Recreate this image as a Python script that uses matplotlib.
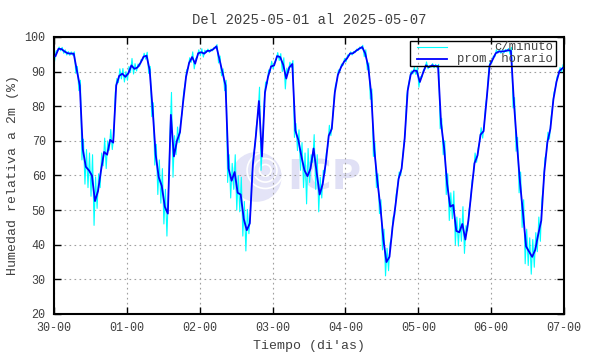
import numpy as np
import matplotlib.pyplot as plt
from matplotlib.patches import Ellipse, Rectangle
from matplotlib.lines import Line2D

# promedio horario de humedad relativa (%), 24 valores por dia
dia0 = [94.5, 96.6, 96.5, 95.8, 95.3, 95.2, 95.2, 90.5, 86.0, 67.5, 62.5, 61.5,
        60.0, 52.6, 55.5, 61.5, 66.8, 66.0, 70.3, 69.5, 86.0, 88.8, 89.4, 88.5]
dia1 = [89.5, 91.8, 90.8, 91.2, 92.5, 94.3, 94.6, 90.5, 79.0, 66.0, 59.5, 57.0,
        51.0, 49.0, 77.5, 65.5, 70.0, 72.5, 81.0, 88.5, 92.5, 94.2, 92.3, 95.3]
dia2 = [95.6, 95.2, 96.0, 96.0, 96.5, 97.3, 93.5, 89.8, 86.0, 62.0, 58.5, 61.0,
        55.0, 54.5, 47.5, 44.2, 46.2, 63.0, 71.5, 81.5, 65.5, 84.0, 88.5, 91.5]
dia3 = [91.8, 94.5, 94.2, 92.0, 88.0, 91.2, 92.2, 73.0, 70.2, 65.5, 61.5, 59.8,
        62.0, 67.8, 61.0, 54.5, 57.5, 63.5, 71.5, 73.5, 84.0, 89.0, 91.2, 92.8]
dia4 = [93.8, 95.2, 95.3, 96.0, 96.6, 97.1, 95.3, 91.5, 83.5, 67.5, 58.5, 51.0,
        41.5, 35.0, 36.5, 45.0, 51.5, 59.0, 62.0, 70.6, 84.5, 89.2, 90.3, 90.2]
dia5 = [87.0, 89.5, 91.8, 91.3, 91.8, 91.6, 91.6, 75.0, 68.0, 57.5, 51.0, 51.5,
        44.0, 43.6, 46.0, 41.5, 47.0, 55.5, 63.5, 65.8, 71.8, 72.8, 82.0, 91.8]
dia6 = [93.5, 95.3, 95.8, 95.8, 95.9, 96.2, 96.0, 81.0, 69.0, 58.0, 49.0, 39.5,
        38.0, 36.5, 38.5, 43.0, 47.0, 61.0, 69.5, 73.5, 82.0, 87.0, 90.2, 91.0]

# media amplitud de los datos por minuto en cada hora (%)
amp0 = [1.5, 0.5, 0.5, 0.5, 0.5, 0.5, 0.5, 1, 1.5, 3, 5, 5, 6, 7, 5, 5, 4, 4, 3, 2, 2, 2, 1.5, 1.5]
amp1 = [2, 2, 1.5, 1, 1, 1, 1, 1, 2, 3, 5, 5, 5, 6.5, 6.5, 6, 4, 3, 3, 2, 1.5, 1.5, 1.5, 1]
amp2 = [1, 1, 0.5, 0.5, 0.5, 0.5, 1, 1, 1.5, 4, 5, 5, 5, 5, 5, 6, 3, 3, 3, 4, 4, 3, 2, 1.5]
amp3 = [1, 1, 1, 2, 3, 1.5, 1, 2, 3, 4, 5, 8, 4, 4, 5, 5, 4, 3, 3, 2, 2, 1.5, 1, 1]
amp4 = [1, 0.5, 0.5, 0.5, 0.5, 0.5, 1, 1, 1.5, 2, 2, 2, 3, 4, 4, 3, 3, 2, 2, 2, 1.5, 1, 1, 1]
amp5 = [1.5, 1, 1, 0.5, 0.5, 0.5, 0.5, 1.5, 2, 3, 4, 4, 4, 4, 5, 4, 3, 3, 3, 2, 2, 2, 1.5, 1]
amp6 = [1, 1, 0.5, 0.5, 0.5, 0.5, 1, 1.5, 2, 3, 4, 5, 4, 5, 5, 5, 6, 4, 3, 3, 2, 1.5, 1, 1]

etiquetas_x = ["30-00", "01-00", "02-00", "03-00", "04-00", "05-00", "06-00", "07-00"]

horario = np.array(dia0 + dia1 + dia2 + dia3 + dia4 + dia5 + dia6)
amp = np.array(amp0 + amp1 + amp2 + amp3 + amp4 + amp5 + amp6)
t_hora = (np.arange(len(horario)) + 0.5) / 24.0

# datos por minuto representados por el minimo y maximo de cada hora
t_min = np.empty(2 * len(horario))
hr_min = np.empty(2 * len(horario))
t_min[0::2] = (np.arange(len(horario)) + 0.2) / 24.0
t_min[1::2] = (np.arange(len(horario)) + 0.7) / 24.0
hr_min[0::2] = horario - amp
hr_min[1::2] = horario + amp

plt.rcParams['font.family'] = ['Liberation Mono', 'DejaVu Sans Mono']
gris = '#404040'

fig = plt.figure(figsize=(5.9, 3.54), dpi=100)
ax = fig.add_axes([0.0915, 0.113, 0.8645, 0.7825])

# marca de agua ICP
ax.add_patch(Ellipse((2.78, 59.6), 0.69, 14.4, color='#e4e4f7', lw=0, zorder=0))
for w, h in ((0.5, 10.5), (0.32, 6.8), (0.16, 3.4)):
    ax.add_patch(Ellipse((2.9, 61.5), w, h, fill=False, ec='white', lw=1.2, zorder=0.1))
ax.text(3.2, 59.2, "ICP", fontsize=29, fontweight='bold', color='#e0e0f5',
        family='DejaVu Sans', ha='left', va='center', zorder=0)

ax.plot(t_min, hr_min, color='#00ffff', lw=0.8, zorder=2)
ax.plot(t_hora, horario, color='#0000ff', lw=1.3, zorder=3)

ax.set_xlim(0, 7)
ax.set_ylim(20, 100)
ax.set_xticks(range(8))
ax.set_xticklabels(etiquetas_x)
ax.set_yticks(range(20, 101, 10))
ax.grid(True, color='#a0a0a0', linestyle=(0, (1.5, 3)), lw=0.8)
ax.tick_params(direction='in', top=True, right=True, length=5, width=1,
               labelsize=8.5, labelcolor=gris, pad=6)
for s in ax.spines.values():
    s.set_linewidth(1.5)

ax.set_title("Del 2025-05-01 al 2025-05-07", fontsize=10, color=gris, pad=9)
ax.set_xlabel("Tiempo (di'as)", fontsize=9.5, color=gris, labelpad=4)
ax.set_ylabel("Humedad relativa a 2m (%)", fontsize=9.5, color=gris, labelpad=4)

# leyenda estilo gnuplot
ax.add_patch(Rectangle((0.698, 0.895), 0.286, 0.09, transform=ax.transAxes,
                       fill=False, ec='black', lw=1, zorder=5))
ax.add_line(Line2D([0.712, 0.77], [0.963, 0.963], transform=ax.transAxes,
                   color='#00ffff', lw=0.8, zorder=5))
ax.add_line(Line2D([0.712, 0.77], [0.922, 0.922], transform=ax.transAxes,
                   color='#0000ff', lw=1.3, zorder=5))
ax.text(0.978, 0.963, "c/minuto", transform=ax.transAxes, ha='right', va='center',
        fontsize=8.8, color=gris, zorder=6)
ax.text(0.978, 0.922, "prom. horario", transform=ax.transAxes, ha='right', va='center',
        fontsize=8.8, color=gris, zorder=6)

fig.savefig("out.png", dpi=100)
